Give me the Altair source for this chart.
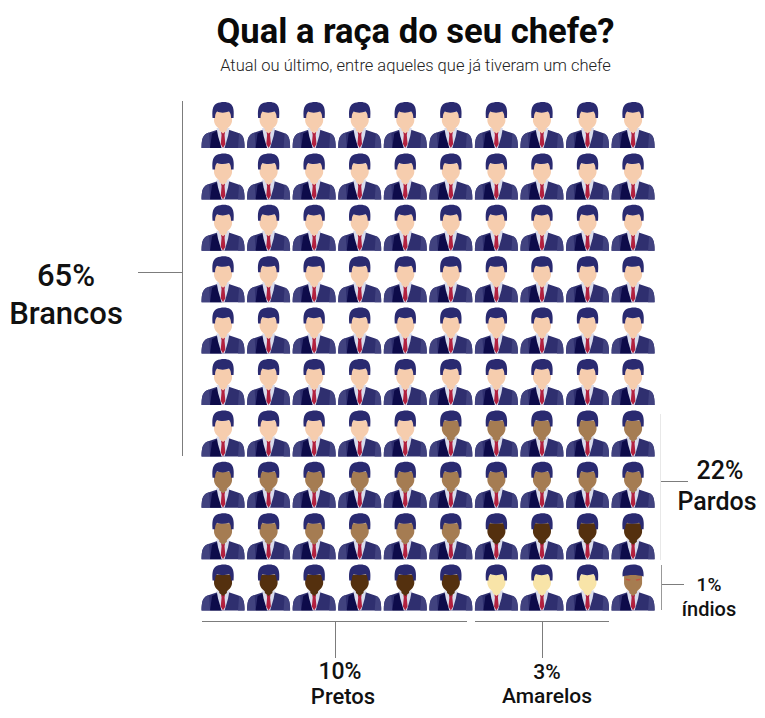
import altair as alt
import pandas as pd

# ---- data ----
RACES = ["Branco", "Pardo", "Preto", "Amarelo", "Indígena"]
SKIN = ["#f6cdae", "#a57c52", "#54300e", "#f8e4a8", "#a67c50"]
COUNTS = [65, 21, 10, 3, 1]
COLUMNS = 10

TITLE = "Qual a raça do seu chefe?"
SUBTITLE = "Atual ou último, entre aqueles que já tiveram um chefe"

race_list = [r for r, n in zip(RACES, COUNTS) for _ in range(n)]
grid = pd.DataFrame({
    "col": [i % COLUMNS for i in range(100)],
    "row": [i // COLUMNS for i in range(100)],
    "race": race_list,
})

# ---- icon shapes, in px around the icon centre (size=4 means 1 unit = 1 px) ----
BODY = "M-21.5 23 C-21.5 13 -20 9.5 -14 7.5 L-5 4.5 L5 4.5 L14 7.5 C20 9.5 21.5 13 21.5 23 Z"
BODY_LIGHT_L = "M-21.5 23 C-21.5 13 -20 9.5 -14 7.5 L-13 23 Z"
BODY_LIGHT_R = "M21.5 23 C21.5 13 20 9.5 16 8.2 L15 23 Z"
BODY_DARK = "M-13 23 L-11 8.5 L-5 5.5 L-1 23 Z"
SHIRT = "M-6.5 3 L6.5 3 L5 11 L1.5 23 L-1.5 23 L-5 11 Z"
TIE = "M-2 7 L2 7 L1.5 10 L2.3 19 L0 23 L-2.3 19 L-1.5 10 Z"
FACE = ("M-9 -13 L9 -13 L9 -4 C8.5 0 5.5 2.5 3.8 3.8 L3.8 5.5 L0 8.5 L-3.8 5.5 L-3.8 3.8 "
        "C-5.5 2.5 -8.5 0 -9 -4 Z")
HAIR = ("M-10.5 -7 C-11 -13 -11 -19 -6.5 -21.5 C-2 -23.5 4 -23.5 7 -21.5 C11 -19 11 -13 10.5 -7 "
        "L8 -7 C8 -10 7.5 -12 6 -13.5 C2 -12 -3 -12 -6 -13.5 C-7.5 -12 -8 -10 -8 -7 Z")
HAIR_BAND = ("M-10.5 -11 C-11 -17 -9 -21 -6 -22 C-2 -23.5 3 -23.5 6 -22 C9 -21 11 -17 10.5 -11 "
             "C4 -13 -4 -13 -10.5 -11 Z")
PAINT_L = "M-7.5 -9 L-2.5 -8 L-3.5 -6.8 L-7 -7.6 Z"
PAINT_R = "M7.5 -9 L2.5 -8 L3.5 -6.8 L7 -7.6 Z"

x = alt.X("col:Q", axis=None, scale=alt.Scale(domain=[-4.72, 11.72], nice=False, zero=False))
y = alt.Y("row:Q", axis=None, scale=alt.Scale(domain=[-0.759, 11.381], nice=False, zero=False, reverse=True))
base = alt.Chart(grid).encode(x=x, y=y)


def part(path, color, flt=None):
    c = base
    if flt:
        c = c.transform_filter(flt)
    return c.mark_point(shape=path, size=4, filled=True, opacity=1, strokeWidth=0, color=color)


face = base.mark_point(shape=FACE, size=4, filled=True, opacity=1, strokeWidth=0).encode(
    color=alt.Color("race:N", legend=None, scale=alt.Scale(domain=RACES, range=SKIN))
)

icons = [
    part(BODY, "#2f2f6f"),
    part(BODY_LIGHT_L, "#41427f"),
    part(BODY_LIGHT_R, "#41427f"),
    part(BODY_DARK, "#0d0b4a"),
    part(SHIRT, "#d9dcec"),
    part(TIE, "#b2213f"),
    face,
    part(HAIR, "#2a2a70", "datum.race != 'Indígena'"),
    part(HAIR_BAND, "#2a2a70", "datum.race == 'Indígena'"),
    part(PAINT_L, "#c4523f", "datum.race == 'Indígena'"),
    part(PAINT_R, "#c4523f", "datum.race == 'Indígena'"),
]

OX, OY = 8, 86
blank = alt.Chart(alt.Data(values=[{"a": 0}]))


def hline(x1, x2, yy, color="#7c7c7c"):
    return blank.mark_rule(color=color, strokeWidth=1).encode(
        x=alt.value(x1 - OX), x2=alt.value(x2 - OX), y=alt.value(yy - OY + 0.5))


def vline(xx, y1, y2, color="#7c7c7c"):
    return blank.mark_rule(color=color, strokeWidth=1).encode(
        x=alt.value(xx - OX + 0.5), y=alt.value(y1 - OY), y2=alt.value(y2 - OY))


def label(txt, xx, yy, fs, weight=500):
    return blank.mark_text(text=txt, font="Roboto", fontSize=fs, fontWeight=weight, color="#111111",
                           align="center", baseline="middle").encode(
        x=alt.value(xx - OX), y=alt.value(yy - OY))


annotations = [
    vline(182, 101, 456), hline(138, 182, 272),
    vline(660, 414, 560, "#e8e8e8"), hline(661, 688, 481),
    vline(661, 565, 610, "#999999"), hline(662, 684, 584),
    hline(202, 467, 621), vline(335, 621, 658),
    hline(475, 609, 621), vline(542, 621, 658),
    label("65%", 66, 277, 31), label("Brancos", 66, 315, 31),
    label("22%", 720, 471, 25), label("Pardos", 717, 502, 25),
    label("1%", 709, 585, 19), label("índios", 709, 610, 20),
    label("10%", 340, 672, 23), label("Pretos", 343, 697, 22),
    label("3%", 547, 673, 21), label("Amarelos", 547, 697, 21),
]

chart = alt.layer(*icons, *annotations).properties(
    width=749,
    height=624,
    padding={"left": 0, "top": 78, "right": 0, "bottom": 0},
    autosize=alt.AutoSizeParams(type="none"),
    background="white",
    title=alt.TitleParams(
        TITLE, subtitle=SUBTITLE, font="Roboto", fontSize=34.6, fontWeight=700, color="#0a0a0a",
        subtitleFont="Roboto", subtitleFontSize=16.5, subtitleFontWeight=300, subtitleColor="#222222",
        anchor="middle", dx=33, offset=11, subtitlePadding=7,
    ),
).configure_view(strokeWidth=0)

chart.save("out.html", embed_options={"renderer": "svg", "actions": False})
